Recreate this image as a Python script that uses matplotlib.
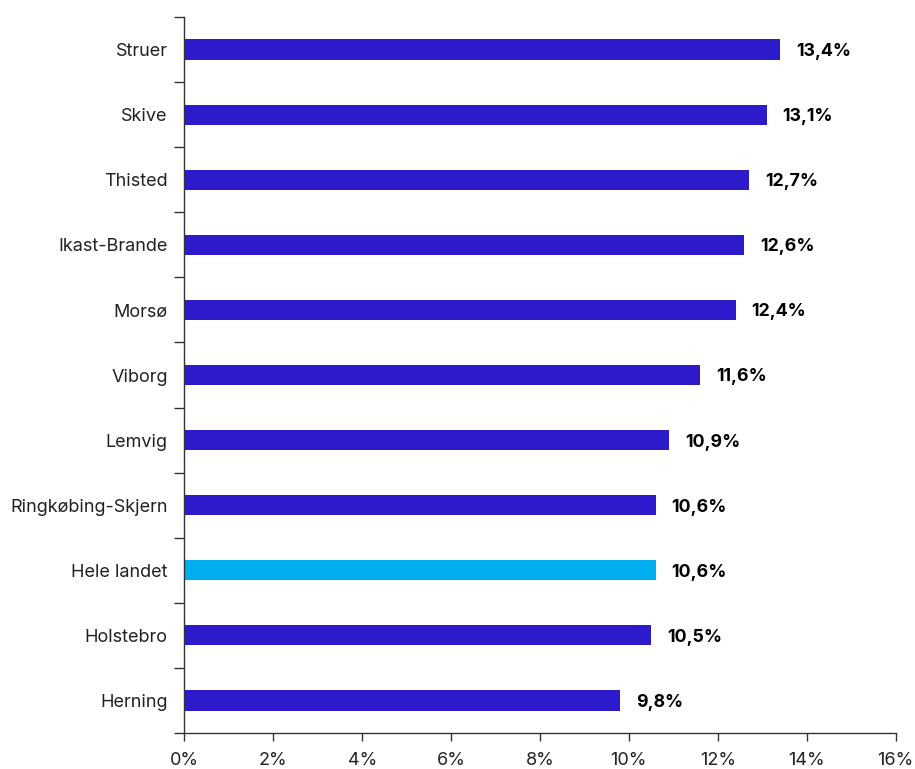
import matplotlib.pyplot as plt
import numpy as np
from matplotlib.ticker import FixedLocator, FuncFormatter

plt.rcParams['font.family'] = ['Inter', 'DejaVu Sans']

kommuner = ['Struer', 'Skive', 'Thisted', 'Ikast-Brande', 'Morsø', 'Viborg',
            'Lemvig', 'Ringkøbing-Skjern', 'Hele landet', 'Holstebro', 'Herning']
andel = [13.4, 13.1, 12.7, 12.6, 12.4, 11.6, 10.9, 10.6, 10.6, 10.5, 9.8]
highlight = 'Hele landet'

dark = '#2C1ACB'
light = '#00AEEF'
axis_col = '#333333'
text_col = '#222222'

fig = plt.figure(figsize=(9.15, 7.69), dpi=100)
ax = fig.add_axes([0.2016, 0.0468, 0.7771, 0.9311])

y = np.arange(len(kommuner))
colors = [light if k == highlight else dark for k in kommuner]
ax.barh(y, andel, height=0.31, color=colors)

# value labels with decimal comma
for yi, v in zip(y, andel):
    ax.text(v + 0.36, yi + 0.03, f'{v:.1f}%'.replace('.', ','), va='center', ha='left',
            fontsize=12.8, fontweight='bold', color='black')

ax.set_ylim(len(kommuner) - 0.5, -0.5)
ax.set_xlim(0, 16)
ax.set_yticks(y)
ax.set_yticklabels(kommuner)
# ticks sit between the categories
ax.yaxis.set_minor_locator(FixedLocator(np.arange(-0.5, len(kommuner), 1)))
ax.tick_params(axis='y', which='major', length=0, pad=12, labelsize=13, labelcolor=text_col)
ax.tick_params(axis='y', which='minor', length=7, width=1, color=axis_col)

ax.set_xticks(np.arange(0, 17, 2))
ax.xaxis.set_major_formatter(FuncFormatter(lambda v, p: f'{v:.0f}%'))
ax.tick_params(axis='x', length=6, width=1, color=axis_col, labelsize=13,
               labelcolor=text_col, pad=8)

for s in ['top', 'right']:
    ax.spines[s].set_visible(False)
for s in ['left', 'bottom']:
    ax.spines[s].set_color(axis_col)
    ax.spines[s].set_linewidth(1)

fig.savefig('out.png', dpi=100)
